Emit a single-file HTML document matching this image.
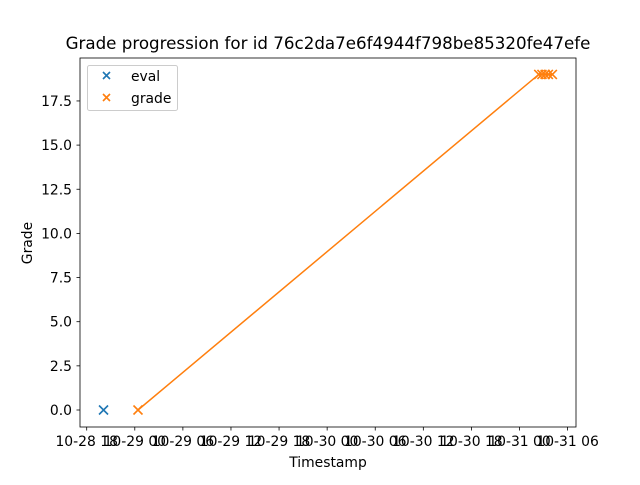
<!DOCTYPE html>
<html><head><meta charset="utf-8"><style>
body{margin:0;background:#fff;font-family:"Liberation Sans","DejaVu Sans",sans-serif}
svg text{font-family:"DejaVu Sans","Liberation Sans",sans-serif;font-size:13.9px;fill:#000}
</style></head><body>
<svg width="640" height="480" id="svg">
<rect width="640" height="480" fill="#fff"/>
<text x="328" y="49" text-anchor="middle" style="font-size:16.7px">Grade progression for id 76c2da7e6f4944f798be85320fe47efe</text>
<text x="328" y="467" text-anchor="middle">Timestamp</text>
<text x="32" y="243" text-anchor="middle" transform="rotate(-90 32 243)">Grade</text>
<g id="ticks"></g>
<g id="marks"></g>
<rect x="80" y="58" width="496" height="369" fill="none" stroke="#000" stroke-width="0.8"/>
<g>
<rect x="87.5" y="65.5" width="90" height="45" rx="2" fill="#fff" fill-opacity="0.8" stroke="#ccc"/>
<g><path d="M103,72l7,7M110,72l-7,7" stroke="#1f77b4" stroke-width="1.6"/><text x="131" y="81">eval</text></g>
<g><path d="M103,94l7,7M110,94l-7,7" stroke="#ff7f0e" stroke-width="1.6"/><text x="131" y="103">grade</text></g>
</g>
</svg>
<script>
const xTickLabels=["10-28 18","10-29 00","10-29 06","10-29 12","10-29 18","10-30 00","10-30 06","10-30 12","10-30 18","10-31 00","10-31 06"];
const yTickLabels=["0.0","2.5","5.0","7.5","10.0","12.5","15.0","17.5"];
const yTickValues=[0,2.5,5,7.5,10,12.5,15,17.5];
const evalHours=[2.1];
const evalValues=[0];
const gradeHours=[6.4,56.4,56.8,57.2,57.6,58.1];
const gradeValues=[0,19,19,19,19,19];
const NS="http://www.w3.org/2000/svg";
function xs(h){return 86.7+h*8.015;}
function ys(v){return 410-v*17.66;}
function mk(tag,attrs,parent){const e=document.createElementNS(NS,tag);for(const k in attrs)e.setAttribute(k,attrs[k]);parent.appendChild(e);return e;}
const tg=document.getElementById('ticks'),mg=document.getElementById('marks');
xTickLabels.forEach((l,i)=>{const x=xs(i*6);
const t=mk('line',{x1:x,x2:x,y1:427,y2:430.5,stroke:'#000','stroke-width':0.8},tg);


const tx=mk('text',{x:x,y:446,'text-anchor':'middle'},tg);tx.textContent=l;

});
yTickValues.forEach((v,i)=>{const y=ys(v);
const t=mk('line',{x1:76.5,x2:80,y1:y,y2:y,stroke:'#000','stroke-width':0.8},tg);


const tx=mk('text',{x:72,y:y+5,'text-anchor':'end'},tg);tx.textContent=yTickLabels[i];

});
const pl=mk('polyline',{points:gradeHours.map((h,i)=>xs(h)+','+ys(gradeValues[i])).join(' '),fill:'none',stroke:'#ff7f0e','stroke-width':1.5},mg);


function cross(x,y,c,name){const p=mk('path',{d:`M${x-4.5},${y-4.5}l9,9M${x+4.5},${y-4.5}l-9,9`,stroke:c,'stroke-width':1.6},mg);

}
evalHours.forEach((h,i)=>cross(xs(h),ys(evalValues[i]),'#1f77b4','eval-point'));
gradeHours.forEach((h,i)=>cross(xs(h),ys(gradeValues[i]),'#ff7f0e','grade-point'));
</script>
</body></html>
